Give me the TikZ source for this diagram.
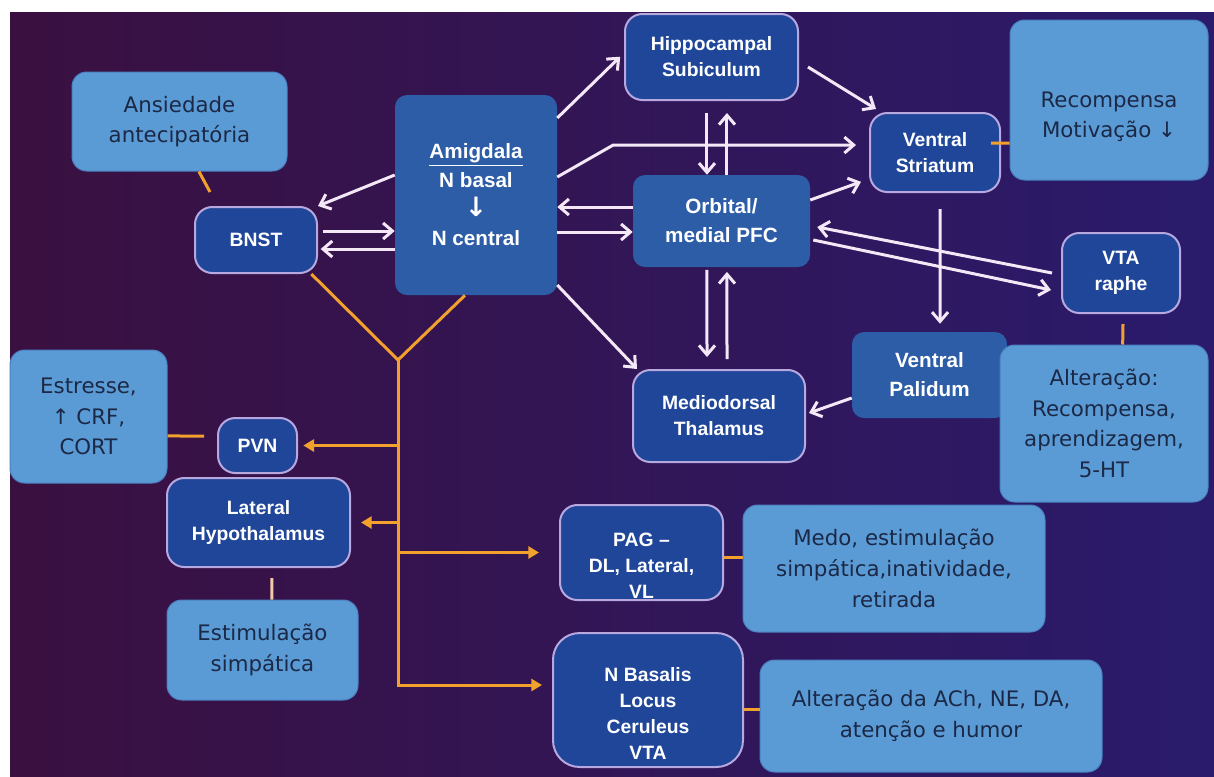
\documentclass[tikz,border=0pt]{standalone}
\usepackage{fontspec}
\setmainfont{DejaVu Sans}
\newfontfamily\boxfont{Liberation Sans}
\newfontfamily\symfont{DejaVu Sans}
\usetikzlibrary{arrows.meta}

\definecolor{lightbox}{HTML}{5B9BD5}
\definecolor{lightedge}{HTML}{4A80C0}
\definecolor{boxtext}{HTML}{1B2846}
\definecolor{darkbox}{HTML}{1F4699}
\definecolor{darkedge}{HTML}{B7A8E0}
\definecolor{midbox}{HTML}{2D5DA7}
\definecolor{wline}{HTML}{F4E8F6}
\definecolor{oline}{HTML}{F2A22C}
\definecolor{pline}{HTML}{F3C9A8}
\definecolor{bgleft}{HTML}{3A1040}
\definecolor{bgmid}{HTML}{3C1A5E}
\definecolor{bgright}{HTML}{2A1B6C}

\tikzset{
  note/.style={fill=lightbox, draw=lightedge, line width=0.75pt, rounded corners=11pt, text=boxtext, align=center, inner sep=0pt, font=\fontsize{16}{23}\selectfont},
  region/.style={fill=darkbox, draw=darkedge, line width=1.5pt, rounded corners=13pt, text=white, align=center, inner sep=0pt, font=\boxfont\bfseries\fontsize{14.5}{19.5}\selectfont},
  core/.style={fill=midbox, rounded corners=9pt, text=white, align=center, inner sep=0pt, font=\boxfont\bfseries\fontsize{15.5}{21.75}\selectfont},
  wire/.style={draw=wline, line width=2.25pt, -{Straight Barb[length=7pt,width=12pt]}},
  feed/.style={draw=oline, line width=2.25pt},
  feedto/.style={feed, -{Triangle[length=8pt,width=9pt]}}
}

\begin{document}
\begin{tikzpicture}[x=0.75pt, y=-0.75pt]

\fill[white] (0,0) rectangle (1214,776);

\shade[left color=bgleft, middle color=bgmid, right color=bgright] (10,12) rectangle (1214,776);

\node[note, minimum width=161.25pt, minimum height=74.25pt] (ansied) at (179.5,121.5) {Ansiedade\\antecipatória};

\node[region, minimum width=91.5pt, minimum height=49.5pt] (bnst) at (256,240) {BNST};

\node[core, minimum width=121.5pt, minimum height=150pt] (amig) at (476,195) {\underline{Amigdala}\\N basal\\{\symfont\bfseries\fontsize{20}{21.75}\selectfont ↓}\\N central};

\node[region, minimum width=129.75pt, minimum height=64.5pt] (hippo) at (711.5,57) {Hippocampal\\Subiculum};

\node[core, minimum width=132.75pt, minimum height=69pt] (pfc) at (721.5,221) {Orbital/\\medial PFC};

\node[region, minimum width=129pt, minimum height=69pt] (thal) at (719,416) {Mediodorsal\\Thalamus};

\node[region, minimum width=97.5pt, minimum height=59.25pt] (vstr) at (935,152.5) {Ventral\\Striatum};

\node[note, minimum width=148.5pt, minimum height=120pt] (recomp) at (1109,100) {\mbox{}\\[14pt]Recompensa\\Motivação ↓};

\node[region, minimum width=88.5pt, minimum height=60pt] (vta) at (1121,273) {VTA\\raphe};

\node[core, minimum width=116.25pt, minimum height=64.5pt] (palid) at (929.5,375) {Ventral\\Palidum};

\node[note, minimum width=156pt, minimum height=117.75pt] (alter) at (1104,423.5) {Alteração:\\Recompensa,\\aprendizagem,\\5-HT};

\node[note, minimum width=117.75pt, minimum height=99.75pt] (estr) at (88.5,416.5) {Estresse,\\↑ CRF,\\CORT};

\node[region, minimum width=59.25pt, minimum height=41.25pt] (pvn) at (257.5,445.5) {PVN};

\node[region, minimum width=137.25pt, minimum height=66.75pt] (lathyp) at (258.5,522.5) {Lateral\\Hypothalamus};

\node[note, minimum width=143.25pt, minimum height=75pt] (estim) at (262.5,650) {Estimulação\\simpática};

\node[region, minimum width=122.25pt, minimum height=71.25pt] (pag) at (641.5,552.5) {\mbox{}\\[10pt]PAG –\\DL, Lateral,\\VL};

\node[note, minimum width=226.5pt, minimum height=95.25pt] (medo) at (894,568.5) {Medo, estimulação\\simpática,inatividade,\\retirada};

\node[region, minimum width=142.5pt, minimum height=100.5pt, rounded corners=20pt] (nbas) at (648,700) {\mbox{}\\[10.5pt]N Basalis\\Locus\\Ceruleus\\VTA};

\node[note, minimum width=256.5pt, minimum height=84pt] (ach) at (931,716) {Alteração da ACh, NE, DA,\\atenção e humor};

\draw[wire] ([yshift=15pt]amig.west) -- (bnst.north east);

\draw[wire, shorten <=4pt] ([yshift=6.75pt]bnst.east) -- ([yshift=-27pt]amig.west);

\draw[wire] ([yshift=-40.5pt]amig.west) -- ([xshift=2pt,yshift=-6.75pt]bnst.east);

\draw[wire, shorten >=4pt] ([yshift=57.75pt]amig.east) -- ([yshift=3pt]hippo.west);

\draw[wire] ([yshift=13.5pt]amig.east) -- ++(56,-32) -- ([xshift=-9.75pt,yshift=5.6pt]vstr.west);

\draw[wire] ([yshift=10.5pt]pfc.west) -- ([yshift=-9pt]amig.east);

\draw[wire] ([yshift=-27.75pt]amig.east) -- ([yshift=-8.25pt]pfc.west);

\draw[wire] ([yshift=-67.5pt]amig.east) -- ([xshift=3.75pt]thal.north west);

\draw[wire, shorten <=9pt] ([xshift=-3.4pt]hippo.south) -- ([xshift=-10.9pt]pfc.north);

\draw[wire, shorten >=9pt] ([xshift=4.1pt]pfc.north) -- ([xshift=11.6pt]hippo.south);

\draw[wire, shorten <=2pt, shorten >=9pt] ([xshift=-10.9pt]pfc.south) -- ([xshift=-9pt]thal.north);

\draw[wire, shorten <=7.5pt, shorten >=3.5pt] ([xshift=6pt]thal.north) -- ([xshift=4.1pt]pfc.south);

\draw[wire] ([xshift=6.75pt,yshift=-7.5pt]hippo.east) -- ([xshift=5.25pt,yshift=2.25pt]vstr.north west);

\draw[wire] ([yshift=15.75pt]pfc.east) -- ([xshift=-6pt,yshift=-22pt]vstr.west);

\draw[wire] ([xshift=-6.75pt]vta.west) -- ([xshift=5.25pt,yshift=-4.5pt]pfc.east);

\draw[wire] ([xshift=2.25pt,yshift=-14.25pt]pfc.east) -- ([xshift=-7.5pt,yshift=-12.75pt]vta.west);

\draw[wire, shorten <=12pt, shorten >=6pt] ([xshift=3.75pt]vstr.south) -- ([xshift=7.9pt]palid.north);

\draw[wire] ([yshift=-17.25pt]palid.west) -- ([xshift=2.25pt,yshift=2.25pt]thal.east);

\coordinate (fork) at (398,360);

\draw[feed] ([xshift=-5pt]bnst.south east) -- (fork);

\draw[feed] ([xshift=-8.25pt]amig.south) -- (fork);

\draw[feedto, shorten >=7.5pt] (fork) |- ([yshift=11.25pt]nbas.west);

\draw[feedto, shorten >=4pt] (fork |- pvn.east) -- (pvn.east);

\draw[feedto, shorten >=7.5pt] (fork |- lathyp.east) -- (lathyp.east);

\draw[feedto, shorten >=15pt] (fork |- pag.west) -- (pag.west);

\draw[feed] ([xshift=14.6pt]ansied.south) -- ([xshift=-34.5pt,yshift=10.5pt]bnst.north);

\draw[feed] ([xshift=-7.5pt,yshift=7.1pt]vstr.east) -- ([yshift=-32.25pt]recomp.west);

\draw[feed] ([xshift=1.5pt,yshift=-7.5pt]vta.south) -- ([xshift=14pt]alter.north);

\draw[feed] ([yshift=-14.6pt]estr.east) -- ([xshift=-9.75pt,yshift=7.1pt]pvn.west);

\draw[feed, draw=pline] ([xshift=10pt,yshift=-7.5pt]lathyp.south) -- ([xshift=7.1pt]estim.north);

\draw[feed] ([yshift=-3.4pt]pag.east) -- ([yshift=8.6pt]medo.west);

\draw[feed] ([yshift=-6.75pt]nbas.east) -- ([yshift=5.25pt]ach.west);

\end{tikzpicture}
\end{document}
